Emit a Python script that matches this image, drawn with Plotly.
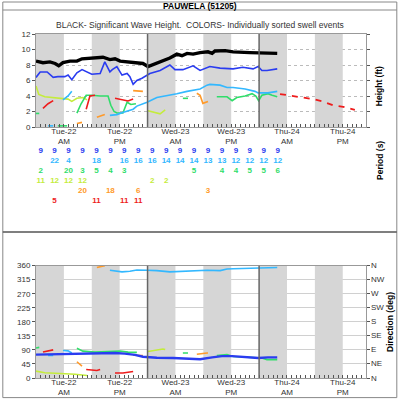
import plotly.graph_objects as go

# hours counted from Tue-22 00:00, None breaks a line between swell events
hs_hours = [0, 1.5, 3.0, 4.1, 4.9, 5.8, 7.3, 8.8, 9.9, 12.0, 14.4, 15.9, 17.0, 18.1, 19.6, 21.7, 23.0,
            24.1, 26.0, 27.3, 28.8, 30.3, 31.4, 32.5, 33.8, 35.3, 37.0, 37.9, 38.5, 40.7, 42.4, 46.0, 51.9]
hs_ft = [8.5, 8.3, 8.4, 8.2, 7.9, 8.3, 8.5, 8.5, 8.8, 8.9, 9.0, 8.7, 8.8, 8.5, 8.4, 8.3, 8.2,
         7.8, 8.2, 8.5, 8.9, 9.4, 9.2, 9.5, 9.4, 9.6, 9.7, 9.5, 9.8, 9.85, 9.7, 9.6, 9.5]

blue_hours = [0, 0.9, 2.4, 3.7, 4.7, 6.2, 6.9, 7.7, 8.8, 9.9, 12.0, 13.8, 14.8, 15.9, 16.4, 17.4, 18.5,
              19.6, 20.2, 20.9, 21.7, 22.8, 24.5, 26.7, 28.8, 29.9, 31.6, 33.8, 35.3, 37.4, 39.6,
              42.4, 44.5, 46.7, 47.8, 48.6, 49.7, 51.9]
blue_ft = [6.4, 7.1, 7.1, 6.4, 6.5, 6.5, 6.7, 6.1, 7.0, 7.4, 6.8, 6.9, 8.4, 7.1, 7.4, 7.8, 6.7,
           6.9, 6.5, 5.5, 6.0, 6.3, 6.9, 7.3, 8.0, 7.4, 7.4, 7.9, 7.3, 7.8, 7.6,
           7.5, 7.7, 7.5, 7.8, 7.3, 7.3, 7.5]
blue_dir_hours = [0, 5.2, 11.6, 15.3, 17.0, 19.1, 21.3, 23.0, 26.0, 29.5, 32.5, 35.3, 37.9, 40.0,
                  42.2, 44.3, 47.8, 49.9, 51.9]
blue_dir = [75, 76, 77, 80, 80, 78, 74, 68, 65, 64, 61, 60, 66, 70, 70, 68, 64, 66, 66]

cyan_hours = [2.6, 3.7, None, 5.8, 6.9, 7.7, None, 15.9, 17.4, 18.5, 20.2, 20.9, 21.7, 23.9, 26.0,
              28.8, 30.3, 32.5, 35.3, 36.8, 37.4, 39.6, 41.1, 42.4, 45.0, 47.1, 47.8, 49.9, 51.9]
cyan_ft = [0.15, 0.15, None, 3.5, 4.0, 4.6, None, 1.5, 1.6, 1.85, 2.2, 2.3, 2.7, 3.2, 3.8,
           4.1, 4.3, 4.6, 4.9, 5.4, 5.5, 5.4, 5.1, 5.1, 4.9, 4.6, 4.4, 4.4, 4.6]
cyan_dir_hours = [2.6, 3.7, None, 5.8, 6.9, 7.7, None, 15.9, 17.4, 18.5, 20.2, 21.7, 23.9, 26.0,
                  28.8, 30.3, 32.5, 35.3, 36.8, 39.6, 41.1, 42.4, 45.0, 47.8, 51.9]
cyan_dir = [72, 72, None, 88, 87, 80, None, 345, 341, 340, 342, 346, 345, 344,
            340, 341, 344, 346, 345, 344, 349, 350, 351, 352, 354]

green_hours = [0, 0.7, None, 4.7, 6.7, None, 8.8, 9.7, 10.8, 12.0, 13.8, 15.5, 16.1, 16.8, 17.4,
               18.7, 19.6, 20.4, 21.5, None, 31.6, 32.7, None, 38.9, 41.1, 42.2, 43.2, 45.0,
               46.5, 47.3, 47.9, 48.6, 49.9, 50.8, 51.9]
green_ft = [1.75, 1.75, None, 0.15, 0.15, None, 1.8, 3.0, 4.1, 4.1, 4.0, 4.0, 2.8, 2.0, 1.8,
            1.8, 3.2, 2.9, 3.0, None, 3.7, 3.7, None, 3.9, 3.9, 3.4, 3.8, 4.0,
            4.3, 4.0, 3.4, 4.1, 4.3, 4.1, 3.9]
green_dir_hours = [0, 0.7, None, 4.7, 6.7, None, 8.8, 10.1, 12.7, 14.8, 16.6, 18.1, 19.8, 21.7,
                   None, 31.6, 32.7, None, 38.9, 41.1, 42.4, 46.0, 48.6, 49.7, 51.9]
green_dir = [96, 98, None, 76, 76, None, 95, 86, 83, 84, 87, 86, 83, 82,
             None, 80, 80, None, 72, 75, 69, 65, 64, 59, 59]

yellow_hours = [0, 0.6, 1.9, 4.1, 5.8, 6.9, 7.7, 8.8, 10.1, 11.0, None, 24.1, 25.2, 26.7, 27.8]
yellow_ft = [5.3, 4.2, 3.9, 3.8, 3.7, 3.6, 3.3, 3.7, 3.8, 3.5, None, 2.1, 1.9, 1.7, 2.2]
yellow_dir_hours = [0, 1.9, 4.1, 6.2, 8.4, 11.0, None, 24.1, 26.0, 27.3, 27.8]
yellow_dir = [22, 17, 15, 14, 12, 8, None, 85, 90, 93, 91]

orange_hours = [8.8, 9.9, None, 13.1, 14.8, None, 20.9, 23.0, None, 34.6, 35.3, 35.9, 37.0]
orange_ft = [0.45, 0.6, None, 1.25, 1.6, None, 4.7, 4.6, None, 4.35, 4.1, 3.05, 3.3]
orange_dir_hours = [8.8, 9.9, None, 13.1, 14.8, None, 20.9, 23.0, None, 34.6, 35.3, 36.8, 37.0]
orange_dir = [52, 38, None, 354, 360, None, 73, 72, None, 76, 78, 80, 80]

red_hours = [1.5, 2.6, 3.7, None, 10.8, 11.6, 12.7, None, 17.0, 18.7, 19.8, 20.9]
red_ft = [2.4, 3.0, 3.4, None, 2.3, 4.0, 4.1, None, 3.7, 3.5, 3.35, 3.6]
red_dir_hours = [1.5, 3.7, None, 10.8, 13.1, 13.8, None, 17.0, 18.7, 20.9]
red_dir = [83, 90, None, 27, 24, 27, None, 16, 16, 21]

fcst_hours = [52.5, 56.8, 59.6, 61.7, 63.9, 66.1, 68.6]
fcst_ft = [4.25, 3.9, 3.6, 3.3, 2.8, 2.6, 2.2]

# period table (seconds), one column every 3 hours
period_hours = [1, 4, 7, 10, 13, 16, 19, 22, 25, 28, 31, 34, 37, 40, 43, 46, 49, 52]
period_blue = ["9", "9", "9", "9", "9", "9", "9", "9", "9", "9", "9", "9", "9", "9", "9", "9", "9", "9"]
period_cyan = ["", "22", "4", "", "18", "", "16", "16", "16", "14", "14", "14", "13", "13", "12", "12", "12", "12"]
period_green = ["2", "", "20", "3", "5", "4", "3", "", "", "", "", "5", "", "4", "4", "5", "5", "6"]
period_yellow = ["11", "12", "12", "12", "", "", "", "", "2", "2", "", "", "", "", "", "", "", ""]
period_orange = ["", "", "", "20", "", "18", "", "6", "", "", "", "", "3", "", "", "", "", ""]
period_red = ["", "5", "", "", "11", "", "11", "11", "", "", "", "", "", "", "", "", "", ""]

tick_hours = [6, 18, 30, 42, 54, 66]
tick_text = ["Tue-22<br>AM", "Tue-22<br>PM", "Wed-23<br>AM", "Wed-23<br>PM", "Thu-24<br>AM", "Thu-24<br>PM"]
compass_deg = [0, 45, 90, 135, 180, 225, 270, 315, 360]
compass = ["N", "NE", "E", "SE", "S", "SW", "W", "NW", "N"]

C_BLUE = "#2a3cf0"
C_CYAN = "#33b8ff"
C_GREEN = "#30dd6a"
C_YELLOW = "#c4ec3c"
C_ORANGE = "#ff9a2a"
C_RED = "#ee1c1c"
FONT = "Liberation Sans"

fig = go.Figure()

# heights
fig.add_trace(go.Scatter(x=hs_hours, y=hs_ft, mode="lines", line=dict(color="black", width=3.4)))
for hx, hy, col in [(yellow_hours, yellow_ft, C_YELLOW), (green_hours, green_ft, C_GREEN),
                    (orange_hours, orange_ft, C_ORANGE), (red_hours, red_ft, C_RED),
                    (cyan_hours, cyan_ft, C_CYAN), (blue_hours, blue_ft, C_BLUE)]:
    fig.add_trace(go.Scatter(x=hx, y=hy, mode="lines", line=dict(color=col, width=1.6),
                             connectgaps=False))
fig.add_trace(go.Scatter(x=fcst_hours, y=fcst_ft, mode="lines",
                         line=dict(color=C_RED, width=1.8, dash="6px,6px")))

# directions
for hx, hy, col in [(yellow_dir_hours, yellow_dir, C_YELLOW), (green_dir_hours, green_dir, C_GREEN),
                    (orange_dir_hours, orange_dir, C_ORANGE), (red_dir_hours, red_dir, C_RED),
                    (cyan_dir_hours, cyan_dir, C_CYAN)]:
    fig.add_trace(go.Scatter(x=hx, y=hy, mode="lines", line=dict(color=col, width=1.6),
                             connectgaps=False, xaxis="x2", yaxis="y2"))
fig.add_trace(go.Scatter(x=blue_dir_hours, y=blue_dir, mode="lines", line=dict(color=C_BLUE, width=2.4),
                         xaxis="x2", yaxis="y2"))

# period rows
for row, (vals, col) in enumerate([(period_blue, C_BLUE), (period_cyan, C_CYAN), (period_green, C_GREEN),
                                   (period_yellow, C_YELLOW), (period_orange, C_ORANGE), (period_red, C_RED)]):
    fig.add_trace(go.Scatter(x=period_hours, y=[row] * len(period_hours), mode="text", text=vals,
                             textfont=dict(family=FONT, size=8, color=col, weight="bold"),
                             xaxis="x3", yaxis="y3", cliponaxis=False))

shapes = []
for day in range(3):
    for start in (0, 12):
        for xref, yref, top in (("x", "y", 12), ("x2", "y2", 360)):
            shapes.append(dict(type="rect", xref=xref, yref=yref, x0=day * 24 + start, x1=day * 24 + start + 6,
                               y0=0, y1=top, fillcolor="#d6d6d6", line_width=0, layer="between"))
for d in (24, 48):
    for xref, yref, top in (("x", "y", 12), ("x2", "y2", 360)):
        shapes.append(dict(type="line", xref=xref, yref=yref, x0=d, x1=d, y0=0, y1=top,
                           line=dict(color="#666", width=1.5)))
# frame, header rule and panel separator
shapes.append(dict(type="rect", xref="paper", yref="paper", x0=0.007, x1=0.992, y0=0.006, y1=0.995,
                   line=dict(color="#888", width=1)))
shapes.append(dict(type="line", xref="paper", yref="paper", x0=0.007, x1=0.992, y0=0.975, y1=0.975,
                   line=dict(color="#888", width=1)))
shapes.append(dict(type="line", xref="paper", yref="paper", x0=0.007, x1=0.992, y0=0.42, y1=0.42,
                   line=dict(color="#555", width=1.5)))

tickfont = dict(family=FONT, size=8, color="#333")
xcommon = dict(range=[0, 71], domain=[0.09, 0.915], tickvals=tick_hours, ticktext=tick_text,
               ticks="inside", ticklen=3, tickcolor="#555", tickfont=tickfont, ticklabelstandoff=-4,
               minor=dict(dtick=1, ticks="inside", ticklen=3, tickcolor="#555"), automargin=False,
               showline=True, linecolor="#999", mirror=True, showgrid=False, zeroline=False)

label_font = dict(family=FONT, size=8.5, color="black")
annotations = [
    dict(text="<b>PAUWELA (51205)</b>", x=0.5, y=0.986, font=label_font),
    dict(text="BLACK- Significant Wave Height.  COLORS- Individually sorted swell events",
         x=0.5, y=0.937, font=dict(family=FONT, size=8.5, color="#333")),
    dict(text="<b>Height (ft)</b>", x=0.948, y=0.785, textangle=-90, font=label_font),
    dict(text="<b>Period (s)</b>", x=0.95, y=0.5975, textangle=-90, font=label_font),
    dict(text="<b>Direction (deg)</b>", x=0.975, y=0.195, textangle=-90, font=label_font),
]
for a in annotations:
    a.update(xref="paper", yref="paper", xanchor="center", yanchor="middle", showarrow=False)
for deg, name in zip(compass_deg, compass):
    annotations.append(dict(text=name, x=0.922, y=deg, xref="paper", yref="y2", xanchor="left",
                            yanchor="middle", showarrow=False, font=tickfont))

fig.update_layout(
    width=400, height=400, margin=dict(l=0, r=0, t=0, b=0),
    paper_bgcolor="white", plot_bgcolor="white", showlegend=False,
    xaxis=dict(anchor="y", **xcommon),
    xaxis2=dict(anchor="y2", matches="x", **xcommon),
    xaxis3=dict(anchor="y3", matches="x", domain=[0.09, 0.915], visible=False, automargin=False),
    yaxis=dict(domain=[0.6825, 0.915], range=[0, 12], dtick=2, anchor="x", tickfont=tickfont,
               ticks="outside", ticklen=3, tickcolor="#555", showline=True, linecolor="#999",
               mirror="ticks", showgrid=True, gridcolor="#bbb", griddash="dot", zeroline=False,
               automargin=False),
    yaxis2=dict(domain=[0.055, 0.336], range=[0, 360], dtick=45, anchor="x2", tickfont=tickfont,
                ticks="outside", ticklen=3, tickcolor="#555", showline=True, linecolor="#999",
                mirror="ticks", showgrid=True, gridcolor="#d0d0d0", zeroline=False, automargin=False),
    yaxis3=dict(domain=[0.486, 0.636], range=[5.5, -0.5], anchor="x3", visible=False, automargin=False),
    shapes=shapes,
    annotations=annotations,
)

fig.write_html("out.html", config={"displayModeBar": False},
               post_script="document.body.style.margin='0px';")
